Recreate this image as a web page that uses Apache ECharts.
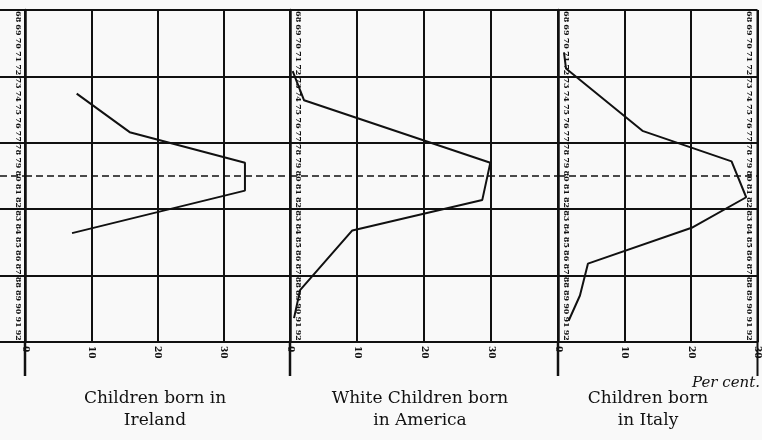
<!DOCTYPE html>
<html>
<head>
<meta charset="utf-8">
<script src="https://cdn.jsdelivr.net/npm/echarts@6/dist/echarts.min.js"></script>
<style>
  html, body { margin: 0; padding: 0; background: #f9f9f9; }
  #chart { width: 762px; height: 440px; }
</style>
</head>
<body>
<div id="chart"></div>
<script>
// Scale values printed along each panel's vertical axis (one band per value)
const levels = ['68','69','70','71','72','73','74','75','76','77','78','79','80',
                '81','82','83','84','85','86','87','88','89','90','91','92'];
const levelMin = 67.5;
const levelMax = 92.5;
const meanLevel = 80;          // dashed reference line across all panels
const pctStep = 10;

// Per cent of children at each scale value
const irelandPct   = [7.8, 15.8, 33.2, 33.2, 7.1];
const irelandLevel = [73.8, 76.7, 79.0, 81.1, 84.3];

const americaPct   = [0.4, 2.1, 29.9, 28.7, 9.3, 1.5, 0.6];
const americaLevel = [72.1, 74.3, 79.0, 81.8, 84.1, 88.6, 90.7];

const italyPct     = [0.9, 1.2, 12.7, 26.1, 28.3, 20.1, 4.5, 3.3, 1.6];
const italyLevel   = [70.7, 71.9, 76.6, 78.9, 81.6, 83.9, 86.6, 89.0, 90.9];

const titles = [
  ['Children born in', 'Ireland'],
  ['White Children born', 'in America'],
  ['Children born', 'in Italy']
];

const ink = '#111';
const numFont = 'DejaVu Serif';

const panels = [
  { left: 25,  width: 265, max: 40, pct: irelandPct, lvl: irelandLevel, labelsInside: false, rightLabels: false },
  { left: 290, width: 268, max: 40, pct: americaPct, lvl: americaLevel, labelsInside: true,  rightLabels: false },
  { left: 558, width: 200, max: 30, pct: italyPct,   lvl: italyLevel,   labelsInside: true,  rightLabels: true }
];

const gridTop = 10, gridHeight = 332;

const grid = [{ left: 0, top: gridTop, width: 25, height: gridHeight }];
const xAxis = [{ gridIndex: 0, type: 'value', min: 0, max: 1, show: false }];
const yAxis = [{
  gridIndex: 0, type: 'value', min: levelMin, max: levelMax, interval: 5, inverse: true,
  axisLine: { show: false }, axisTick: { show: false }, axisLabel: { show: false },
  splitLine: { show: true, lineStyle: { color: ink, width: 2 } }
}];
const series = [];
const valueAxisIdx = [];

function labelAxis(g, side, inside) {
  return {
    gridIndex: g, type: 'category', data: levels, inverse: true, boundaryGap: true,
    position: side, offset: 0,
    axisLine: { show: false }, axisTick: { show: false }, splitLine: { show: false },
    axisLabel: {
      show: true, inside: inside, rotate: -90, margin: inside ? 4 : 3, interval: 0,
      fontFamily: numFont, fontSize: 8, fontWeight: 'bold', color: ink
    }
  };
}

panels.forEach((p, i) => {
  const g = i + 1;
  grid.push({ left: p.left, top: gridTop, width: p.width, height: gridHeight });
  xAxis.push({
    gridIndex: g, type: 'value', min: 0, max: p.max, interval: pctStep, position: 'bottom',
    axisLine: { show: true, lineStyle: { color: ink, width: 2 } },
    axisTick: { show: false },
    splitLine: { show: true, lineStyle: { color: ink, width: 2 } },
    axisLabel: {
      show: true, rotate: -90, margin: 4, showMaxLabel: p.max === 30,
      fontFamily: numFont, fontSize: 9, fontWeight: 'bold', color: ink
    }
  });
  valueAxisIdx.push(yAxis.length);
  yAxis.push({
    gridIndex: g, type: 'value', min: levelMin, max: levelMax, interval: 5, inverse: true,
    position: 'left',
    axisLine: { show: true, lineStyle: { color: ink, width: 2.5 } },
    axisTick: { show: false }, axisLabel: { show: false },
    splitLine: { show: true, lineStyle: { color: ink, width: 2 } }
  });
  yAxis.push(labelAxis(g, 'left', p.labelsInside));
  if (p.rightLabels) yAxis.push(labelAxis(g, 'right', true));

  series.push({
    type: 'line',
    xAxisIndex: g,
    yAxisIndex: valueAxisIdx[i],
    data: p.pct.map((v, k) => [v, p.lvl[k]]),
    symbol: 'none',
    lineStyle: { color: ink, width: 2 },
    silent: true,
    animation: false,
    markLine: {
      silent: true, symbol: 'none', label: { show: false },
      lineStyle: { color: ink, width: 1.6, type: [7, 4] },
      data: [{ yAxis: meanLevel }]
    }
  });
});

const chart = echarts.init(document.getElementById('chart'), null, { renderer: 'canvas' });
chart.setOption({
  backgroundColor: '#f9f9f9',
  animation: false,
  grid, xAxis, yAxis, series
});

// Axis extensions below the panels, the dashed line into the label column, and captions
const graphics = [];
panels.forEach((p, i) => {
  const [x0, y0] = chart.convertToPixel({ xAxisIndex: i + 1, yAxisIndex: valueAxisIdx[i] }, [0, levelMax]);
  graphics.push({ type: 'line', shape: { x1: x0, y1: y0, x2: x0, y2: y0 + 34 },
                  style: { stroke: ink, lineWidth: 2.5 }, silent: true });
  if (i === panels.length - 1) {
    const [xr, yr] = chart.convertToPixel({ xAxisIndex: i + 1, yAxisIndex: valueAxisIdx[i] }, [p.max, levelMax]);
    graphics.push({ type: 'line', shape: { x1: xr, y1: gridTop, x2: xr, y2: yr + 34 },
                    style: { stroke: ink, lineWidth: 2 }, silent: true });
  }
});
const [xl, ym] = chart.convertToPixel({ xAxisIndex: 1, yAxisIndex: valueAxisIdx[0] }, [0, meanLevel]);
graphics.push({ type: 'line', shape: { x1: 0, y1: ym, x2: xl, y2: ym },
                style: { stroke: ink, lineWidth: 1.6, lineDash: [7, 4] }, silent: true });

graphics.push({ type: 'text', style: { text: 'Per cent.', x: 760, y: 383, textAlign: 'right',
  textVerticalAlign: 'middle', font: 'italic 15px "DejaVu Serif"', fill: ink }, silent: true });

const titleCenters = [155, 420, 648];
titles.forEach((t, i) => {
  t.forEach((line, k) => {
    graphics.push({ type: 'text', style: { text: line, x: titleCenters[i], y: 399 + k * 22,
      textAlign: 'center', textVerticalAlign: 'middle', font: '17px "DejaVu Serif"', fill: ink }, silent: true });
  });
});

chart.setOption({ graphic: graphics });
</script>
</body>
</html>
